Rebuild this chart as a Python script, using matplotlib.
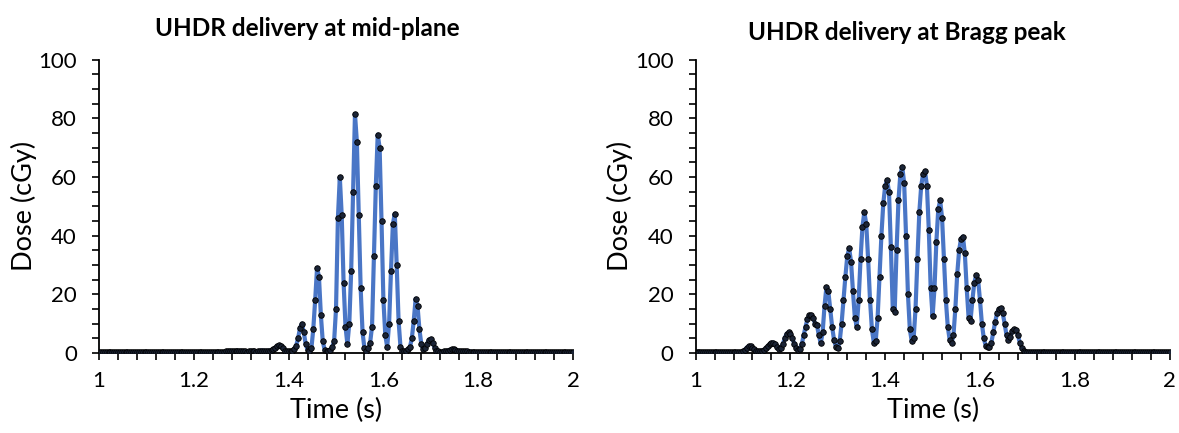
import matplotlib.pyplot as plt
import numpy as np
from matplotlib.ticker import MultipleLocator, FormatStrFormatter

plt.rcParams['font.family'] = ['Lato', 'DejaVu Sans']

# sample clock: 1.000 s to 2.000 s every 4 ms
time_s = np.linspace(1.0, 2.0, 251)

# dose (cGy) at mid-plane, one row per 0.1 s
dose_mid = [
    0.2, 0.2, 0.2, 0.2, 0.2, 0.2, 0.2, 0.2, 0.2, 0.2, 0.2, 0.2, 0.2, 0.2, 0.2, 0.2, 0.2, 0.2, 0.2, 0.2, 0.2, 0.2, 0.2, 0.2, 0.2,
    0.2, 0.2, 0.2, 0.2, 0.2, 0.2, 0.2, 0.2, 0.2, 0.2, 0.2, 0.2, 0.2, 0.2, 0.2, 0.2, 0.2, 0.2, 0.2, 0.2, 0.2, 0.2, 0.2, 0.2, 0.2,
    0.2, 0.2, 0.2, 0.2, 0.2, 0.2, 0.2, 0.2, 0.2, 0.2, 0.2, 0.2, 0.2, 0.2, 0.2, 0.2, 0.2, 0.5, 0.6, 0.7, 0.6, 0.5, 0.6, 0.7, 0.6,
    0.7, 0.6, 0.5, 0.4, 0.6, 0.7, 0.6, 0.5, 0.4, 0.6, 0.7, 0.8, 0.7, 0.6, 0.7, 0.8, 0.9, 1.2, 1.8, 2.4, 2.6, 2.3, 1.5, 0.8, 0.6,
    0.5, 0.5, 0.7, 1.2, 2.5, 5.0, 8.5, 10.0, 7.0, 3.0, 1.0, 0.6, 1.5, 8.0, 18.0, 29.0, 26.0, 13.0, 4.0, 1.0, 0.5, 0.6, 1.0, 2.0, 4.0,
    15.0, 46.0, 60.0, 47.0, 24.0, 9.0, 3.0, 10.0, 28.0, 55.0, 81.5, 72.0, 47.0, 22.0, 7.0, 1.5, 0.8, 1.5, 3.5, 9.0, 33.0, 57.0, 74.5, 70.0, 45.0,
    18.0, 6.0, 2.0, 10.0, 28.0, 44.0, 47.5, 30.0, 11.0, 2.0, 0.8, 0.6, 0.8, 1.2, 2.0, 5.0, 11.0, 18.5, 16.0, 8.0, 3.0, 1.2, 1.5, 3.0, 4.5,
    4.8, 3.5, 1.8, 0.8, 0.5, 0.4, 0.4, 0.5, 0.6, 0.8, 1.0, 1.2, 1.2, 1.0, 0.8, 0.7, 0.6, 0.6, 0.5, 0.5, 0.4, 0.4, 0.3, 0.3, 0.2,
    0.2, 0.2, 0.2, 0.2, 0.2, 0.2, 0.2, 0.2, 0.2, 0.2, 0.2, 0.2, 0.2, 0.2, 0.2, 0.2, 0.2, 0.2, 0.2, 0.2, 0.2, 0.2, 0.2, 0.2, 0.2,
    0.2, 0.2, 0.2, 0.2, 0.2, 0.2, 0.2, 0.2, 0.2, 0.2, 0.2, 0.2, 0.2, 0.2, 0.2, 0.2, 0.2, 0.2, 0.2, 0.2, 0.2, 0.2, 0.2, 0.2, 0.2,
    0.2,
]

# dose (cGy) at Bragg peak, one row per 0.1 s
dose_bragg = [
    0.2, 0.2, 0.2, 0.2, 0.2, 0.2, 0.2, 0.2, 0.2, 0.2, 0.2, 0.2, 0.2, 0.2, 0.2, 0.2, 0.2, 0.2, 0.2, 0.2, 0.2, 0.2, 0.2, 0.2, 0.3,
    0.5, 1.0, 1.8, 2.3, 2.3, 1.8, 1.2, 0.8, 0.6, 0.6, 0.8, 1.0, 1.5, 2.2, 3.0, 3.5, 3.5, 3.0, 2.0, 1.4, 1.8, 3.0, 5.0, 6.5, 7.0,
    6.5, 5.0, 3.2, 1.8, 1.0, 1.2, 3.0, 6.0, 9.0, 11.5, 12.8, 13.0, 12.0, 10.0, 9.5, 6.0, 3.3, 7.0, 16.0, 22.5, 21.0, 15.0, 9.0, 4.5, 2.0,
    1.5, 4.0, 10.0, 18.0, 26.0, 33.0, 35.7, 31.0, 21.0, 12.0, 9.0, 18.0, 32.0, 43.0, 48.0, 44.0, 32.0, 18.0, 8.0, 3.5, 4.0, 12.0, 26.0, 40.0, 51.0,
    57.0, 59.0, 55.0, 36.0, 15.0, 14.0, 35.0, 52.0, 61.0, 63.5, 58.0, 40.0, 20.0, 8.0, 4.0, 5.0, 15.0, 32.0, 48.0, 57.0, 61.0, 62.0, 57.0, 42.0, 22.0,
    12.5, 22.0, 38.0, 49.0, 52.0, 46.0, 32.0, 18.0, 9.0, 4.5, 3.3, 6.0, 15.0, 27.0, 35.0, 39.0, 39.7, 34.0, 22.0, 12.0, 11.0, 18.0, 24.0, 26.5, 25.0,
    18.0, 10.0, 5.0, 2.5, 2.0, 2.0, 3.5, 7.0, 10.5, 13.5, 15.0, 15.2, 13.5, 10.0, 6.0, 4.4, 5.5, 7.5, 8.0, 7.8, 6.0, 3.5, 1.8, 0.8, 0.4,
    0.3, 0.2, 0.2, 0.2, 0.2, 0.2, 0.2, 0.2, 0.2, 0.2, 0.2, 0.2, 0.2, 0.2, 0.2, 0.2, 0.2, 0.2, 0.2, 0.2, 0.2, 0.2, 0.2, 0.2, 0.2,
    0.2, 0.2, 0.2, 0.2, 0.2, 0.2, 0.2, 0.2, 0.2, 0.2, 0.2, 0.2, 0.2, 0.2, 0.2, 0.2, 0.2, 0.2, 0.2, 0.2, 0.2, 0.2, 0.2, 0.2, 0.2,
    0.2, 0.2, 0.2, 0.2, 0.2, 0.2, 0.2, 0.2, 0.2, 0.2, 0.2, 0.2, 0.2, 0.2, 0.2, 0.2, 0.2, 0.2, 0.2, 0.2, 0.2, 0.2, 0.2, 0.2, 0.2,
    0.2,
]

titles = ["UHDR delivery at mid-plane", "UHDR delivery at Bragg peak"]

fig = plt.figure(figsize=(11.79, 4.33), dpi=100)
ax1 = fig.add_axes([0.084, 0.185, 0.402, 0.677])
ax2 = fig.add_axes([0.590, 0.185, 0.402, 0.677])

for ax, dose, title in [(ax1, dose_mid, titles[0]), (ax2, dose_bragg, titles[1])]:
    ax.plot(time_s, dose, color='#4a76c6', lw=3.0, zorder=2)
    ax.plot(time_s, dose, 'o', ms=4.0, color='#1b2436', mec='black', mew=0.6, zorder=3)
    ax.set_xlim(1, 2)
    ax.set_ylim(0, 100)
    ax.xaxis.set_major_locator(MultipleLocator(0.2))
    ax.xaxis.set_minor_locator(MultipleLocator(0.04))
    ax.yaxis.set_major_locator(MultipleLocator(20))
    ax.yaxis.set_minor_locator(MultipleLocator(5))
    ax.xaxis.set_major_formatter(FormatStrFormatter('%g'))
    ax.spines['top'].set_visible(False)
    ax.spines['right'].set_visible(False)
    for s in ['left', 'bottom']:
        ax.spines[s].set_linewidth(1.3)
    ax.tick_params(which='major', direction='out', length=5, width=1.2, labelsize=16, pad=8, colors='black')
    ax.tick_params(axis='y', which='major', pad=11)
    ax.tick_params(which='minor', direction='out', length=5, width=1.2)
    ax.set_xlabel('Time (s)', fontsize=19.5, labelpad=5)
    ax.set_ylabel('Dose (cGy)', fontsize=19.5, labelpad=1)
    ax.set_clip_on(False)

fig.text(0.261, 0.935, titles[0], fontsize=17.5, fontweight='bold', ha='center', va='center')
fig.text(0.769, 0.925, titles[1], fontsize=17.5, fontweight='bold', ha='center', va='center')

fig.savefig('out.png', dpi=100)
